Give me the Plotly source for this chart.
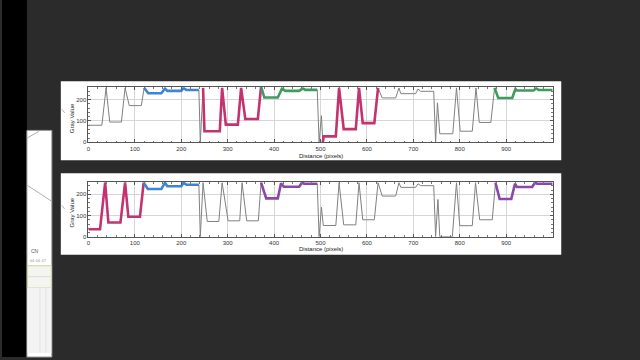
import plotly.graph_objects as go

# ---------------- data ----------------
# Top plot: grey value profile along distance (pixels)
top_x = [0, 29, 38, 46, 71, 79, 88, 114, 120,
         129, 157, 165, 170, 200, 205, 211, 238,
         241, 247,
         250, 283, 288, 296, 322, 329, 338, 365, 372,
         379, 408, 417, 424, 454, 462, 467, 493,
         497, 502, 505,
         507, 533, 540, 550, 576, 583, 591, 616, 624,
         633, 662, 669, 673, 705, 710, 716, 744, 748, 752, 757, 785, 793, 801, 827, 835, 842, 867, 875,
         883, 913, 920, 923, 959, 965, 970, 1000]
top_y = [80, 80, 255, 95, 95, 255, 172, 172, 255,
         230, 230, 252, 241, 241, 255, 245, 245,
         0, 255,
         52, 52, 255, 83, 83, 255, 109, 109, 262,
         210, 210, 252, 241, 241, 253, 246, 246,
         0, 125, 0,
         28, 28, 255, 62, 62, 255, 90, 90, 255,
         208, 208, 255, 228, 228, 250, 239, 239, 0, 185, 40, 40, 255, 52, 52, 255, 93, 93, 255,
         208, 208, 250, 243, 243, 253, 245, 245]
# highlighted selections of the top profile: (start, end, colour)
top_sel_start = [120, 247, 372, 505, 875]
top_sel_end = [238, 372, 493, 624, 1000]
top_sel_color = ["#3d84d6", "#c4336f", "#3f9b5e", "#c4336f", "#3f9b5e"]

# Bottom plot
bot_x = [0, 25, 36, 43, 69, 79, 86, 111, 119,
         128, 157, 165, 170, 200, 205, 211, 238,
         241, 247,
         256, 281, 288, 301, 326, 331, 341, 366, 372,
         383, 408, 415, 421, 454, 460, 465, 493,
         497, 502, 506, 533, 540, 550, 576, 583, 591, 616, 624,
         633, 662, 669, 673, 705, 710, 716, 744, 748, 753, 757, 784, 793, 800, 827, 834, 843, 870, 877,
         886, 911, 919, 923, 956, 962, 967, 1000]
bot_y = [35, 35, 255, 67, 67, 255, 94, 94, 255,
         225, 225, 255, 238, 238, 255, 245, 245,
         0, 255,
         72, 72, 255, 75, 75, 255, 75, 75, 255,
         181, 181, 252, 236, 236, 255, 250, 250,
         0, 140, 53, 53, 255, 56, 56, 255, 80, 80, 255,
         192, 192, 255, 233, 233, 250, 241, 241, 0, 176, 0, 0, 255, 52, 52, 255, 80, 80, 255,
         178, 178, 250, 235, 235, 255, 250, 250]
bot_sel_start = [0, 119, 372, 877]
bot_sel_end = [119, 238, 493, 1000]
bot_sel_color = ["#c4336f", "#3d84d6", "#8a47a8", "#8a47a8"]

x_ticks = [0, 100, 200, 300, 400, 500, 600, 700, 800, 900]
y_ticks = [0, 100, 200]
x_title = "Distance (pixels)"
y_title = "Gray Value"

assert len(top_x) == len(top_y) and len(bot_x) == len(bot_y)

# ---------------- geometry helpers ----------------
W, H = 640, 360
def px(x):
    return x / W
def py(y):
    return 1 - y / H

fig = go.Figure()

panels = [
    dict(x=top_x, y=top_y, s=top_sel_start, e=top_sel_end, c=top_sel_color,
         top=88.0, bottom=143.5, xa="x", ya="y", xn="xaxis", yn="yaxis"),
    dict(x=bot_x, y=bot_y, s=bot_sel_start, e=bot_sel_end, c=bot_sel_color,
         top=183.6, bottom=238.7, xa="x2", ya="y2", xn="xaxis2", yn="yaxis2"),
]
left, right = 86.7, 552.3

for p in panels:
    fig.add_trace(go.Scatter(x=p["x"], y=p["y"], mode="lines",
                             line=dict(color="#808080", width=1),
                             xaxis=p["xa"], yaxis=p["ya"], hoverinfo="skip", showlegend=False))
    for s, e, c in zip(p["s"], p["e"], p["c"]):
        xs = [xv for xv in p["x"] if s <= xv <= e]
        ys = [yv for xv, yv in zip(p["x"], p["y"]) if s <= xv <= e]
        fig.add_trace(go.Scatter(x=xs, y=ys, mode="lines",
                                 line=dict(color=c, width=2.6),
                                 xaxis=p["xa"], yaxis=p["ya"], hoverinfo="skip", showlegend=False))

axis_font = dict(family="Liberation Sans, Arial, sans-serif", size=6, color="#333333")
layout = dict(width=W, height=H, margin=dict(l=0, r=0, t=0, b=0),
              paper_bgcolor="#2b2b2b", plot_bgcolor="#ffffff", showlegend=False)
for p in panels:
    layout[p["xn"]] = dict(domain=[px(left), px(right)], range=[0, 1000],
                           anchor=p["ya"], tickvals=x_ticks, ticktext=[str(v) for v in x_ticks],
                           showgrid=True, gridcolor="#d6d6d6", gridwidth=1, zeroline=False,
                           showline=True, linecolor="#555555", linewidth=1, mirror="ticks",
                           ticks="inside", ticklen=3, tickcolor="#555555", tickfont=axis_font,
                           minor=dict(ticks="inside", ticklen=1.5, dtick=20, tickcolor="#777777", showgrid=False))
    layout[p["yn"]] = dict(domain=[py(p["bottom"]), py(p["top"])], range=[0, 258],
                           anchor=p["xa"], tickvals=y_ticks, ticktext=[str(v) for v in y_ticks],
                           showgrid=True, gridcolor="#d6d6d6", gridwidth=1, zeroline=False,
                           showline=True, linecolor="#555555", linewidth=1, mirror="ticks",
                           ticks="inside", ticklen=3, tickcolor="#555555", tickfont=axis_font,
                           minor=dict(ticks="inside", ticklen=1.5, dtick=20, tickcolor="#777777", showgrid=False))
fig.update_layout(**layout)

shapes = []
# left black strip
shapes.append(dict(type="rect", xref="paper", yref="paper", x0=0, x1=px(25), y0=0, y1=1,
                   fillcolor="#000000", line=dict(width=0), layer="below"))
# left white window
shapes.append(dict(type="rect", xref="paper", yref="paper", x0=px(25), x1=px(50), y0=0, y1=py(131.5),
                   fillcolor="#ffffff", line=dict(color="#9a9a9a", width=1), layer="below"))
shapes.append(dict(type="line", xref="paper", yref="paper", x0=px(25.5), y0=py(139), x1=px(37), y1=py(132.5),
                   line=dict(color="#b0b0b0", width=1)))
shapes.append(dict(type="line", xref="paper", yref="paper", x0=px(25.5), y0=py(187), x1=px(50), y1=py(203),
                   line=dict(color="#b0b0b0", width=1)))
shapes.append(dict(type="rect", xref="paper", yref="paper", x0=px(25.5), x1=px(49.5), y0=py(290), y1=py(268),
                   fillcolor="#f4f4f0", line=dict(color="#c8d4a0", width=1)))
shapes.append(dict(type="line", xref="paper", yref="paper", x0=px(25.5), y0=py(279), x1=px(49.5), y1=py(279),
                   line=dict(color="#dcdcdc", width=1)))
shapes.append(dict(type="rect", xref="paper", yref="paper", x0=px(25.5), x1=px(49.5), y0=py(356), y1=py(290),
                   fillcolor="#f3f3f3", line=dict(width=0)))
shapes.append(dict(type="line", xref="paper", yref="paper", x0=px(38), y0=py(356), x1=px(38), y1=py(290),
                   line=dict(color="#e2e2e2", width=1)))
shapes.append(dict(type="line", xref="paper", yref="paper", x0=px(44), y0=py(356), x1=px(44), y1=py(290),
                   line=dict(color="#e2e2e2", width=1)))
# white plot windows
shapes.append(dict(type="rect", xref="paper", yref="paper", x0=px(59), x1=px(561), y0=py(161.5), y1=py(82),
                   fillcolor="#ffffff", line=dict(width=0), layer="below"))
shapes.append(dict(type="rect", xref="paper", yref="paper", x0=px(59), x1=px(561), y0=py(257), y1=py(174.7),
                   fillcolor="#ffffff", line=dict(width=0), layer="below"))
# small stray diagonal marks at the left of the windows
shapes.append(dict(type="line", xref="paper", yref="paper", x0=px(60), y0=py(110), x1=px(63), y1=py(114),
                   line=dict(color="#bbbbbb", width=1)))
shapes.append(dict(type="line", xref="paper", yref="paper", x0=px(60), y0=py(207), x1=px(63), y1=py(211),
                   line=dict(color="#bbbbbb", width=1)))
fig.update_layout(shapes=shapes)

title_font = dict(family="Liberation Sans, Arial, sans-serif", size=6, color="#222222")
annotations = []
for p, xt_y, yt_y in [(panels[0], 157.3, 119), (panels[1], 251.5, 214)]:
    annotations.append(dict(text=x_title, xref="paper", yref="paper", x=px((left + right) / 2), y=py(xt_y),
                            showarrow=False, font=title_font, xanchor="center", yanchor="middle"))
    annotations.append(dict(text=y_title, xref="paper", yref="paper", x=px(70.5), y=py(yt_y),
                            showarrow=False, font=title_font, textangle=-90, xanchor="center", yanchor="middle"))
annotations.append(dict(text="CN", xref="paper", yref="paper", x=px(27), y=py(253), showarrow=False,
                        font=dict(family="Liberation Sans, Arial, sans-serif", size=5, color="#555555"),
                        xanchor="left", yanchor="middle"))
annotations.append(dict(text="0.6  0.6  0.7", xref="paper", yref="paper", x=px(26), y=py(263), showarrow=False,
                        font=dict(family="Liberation Sans, Arial, sans-serif", size=3, color="#777777"),
                        xanchor="left", yanchor="middle"))
fig.update_layout(annotations=annotations)

fig.write_html("out.html", config={"displayModeBar": False},
               post_script="document.body.style.margin='0';document.body.style.padding='0';"
                           "document.body.style.background='#2b2b2b';document.body.style.overflow='hidden';")
